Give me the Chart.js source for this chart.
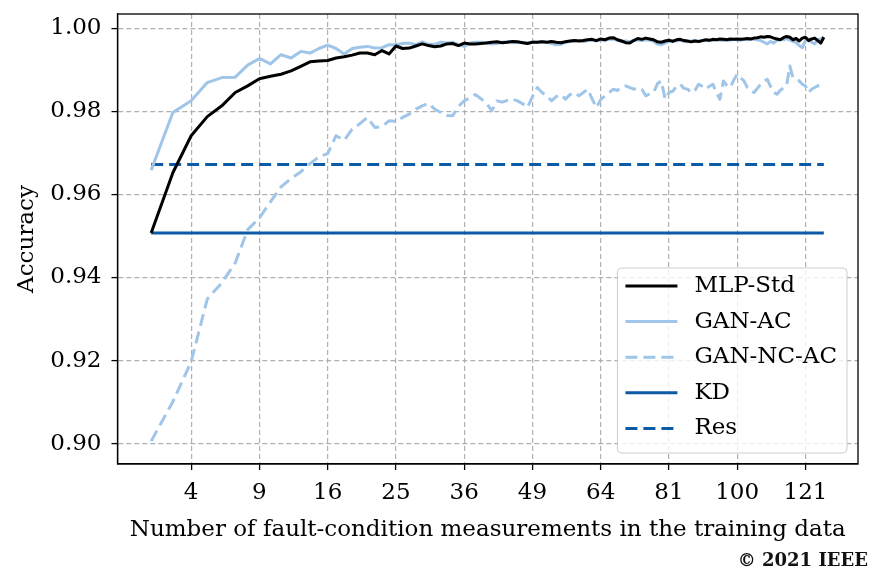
<!DOCTYPE html>
<html>
<head>
<meta charset="utf-8">
<script src="https://cdn.jsdelivr.net/npm/chart.js@4.4.1/dist/chart.umd.min.js"></script>
<style>
  html, body { margin: 0; padding: 0; background: #fff; }
  #wrap { position: relative; width: 872px; height: 574px; }
  #copyright { position: absolute; right: 4px; top: 549px; font: bold 18px 'DejaVu Serif', serif; color: #111; }
</style>
</head>
<body>
<div id="wrap">
  <canvas id="chart" width="872" height="574"></canvas>
  <div id="copyright">© 2021 IEEE</div>
</div>
<script>
// number of fault-condition measurements (x values, drawn on a sqrt axis)
const nValues = [
  2, 3, 4, 5, 6, 7, 8, 9, 10, 11,
  12, 13, 14, 15, 16, 17, 18, 19, 20, 21,
  22, 23, 24, 25, 26, 27, 28, 29, 30, 31,
  32, 33, 34, 35, 36, 37, 38, 39, 40, 41,
  42, 43, 44, 45, 46, 47, 48, 49, 50, 51,
  52, 53, 54, 55, 56, 57, 58, 59, 60, 61,
  62, 63, 64, 65, 66, 67, 68, 69, 70, 71,
  72, 73, 74, 75, 76, 77, 78, 79, 80, 81,
  82, 83, 84, 85, 86, 87, 88, 89, 90, 91,
  92, 93, 94, 95, 96, 97, 98, 99, 100, 101,
  102, 103, 104, 105, 106, 107, 108, 109, 110, 111,
  112, 113, 114, 115, 116, 117, 118, 119, 120, 121,
  122, 123, 124, 125, 126, 127
];

const mlpStd = [
  0.9507, 0.9652, 0.9741, 0.9787, 0.9813, 0.9845, 0.9861, 0.9878, 0.9884, 0.9889,
  0.9897, 0.9908, 0.9919, 0.9921, 0.9922, 0.9928, 0.9931, 0.9935, 0.9940, 0.9940,
  0.9936, 0.9946, 0.9938, 0.9957, 0.9951, 0.9952, 0.9957, 0.9962, 0.9958, 0.9955,
  0.9957, 0.9962, 0.9963, 0.9958, 0.9964, 0.9962, 0.9962, 0.9963, 0.9964, 0.9966,
  0.9967, 0.9965, 0.9966, 0.9968, 0.9967, 0.9965, 0.9963, 0.9966, 0.9966, 0.9967,
  0.9966, 0.9968, 0.9966, 0.9965, 0.9967, 0.9969, 0.9970, 0.9969, 0.9970, 0.9972,
  0.9973, 0.9970, 0.9974, 0.9972, 0.9976, 0.9977, 0.9972, 0.9969, 0.9965, 0.9964,
  0.9970, 0.9975, 0.9973, 0.9976, 0.9974, 0.9972, 0.9967, 0.9966, 0.9969, 0.9971,
  0.9968, 0.9972, 0.9973, 0.9970, 0.9969, 0.9967, 0.9969, 0.9968, 0.9970, 0.9972,
  0.9971, 0.9973, 0.9972, 0.9974, 0.9973, 0.9972, 0.9974, 0.9973, 0.9974, 0.9973,
  0.9974, 0.9975, 0.9974, 0.9976, 0.9977, 0.9979, 0.9978, 0.9980, 0.9979, 0.9976,
  0.9974, 0.9972, 0.9977, 0.9980, 0.9978, 0.9972, 0.9975, 0.9969, 0.9976, 0.9978,
  0.9970, 0.9974, 0.9976, 0.9970, 0.9964, 0.9978
];

const ganAC = [
  0.9658, 0.9797, 0.9825, 0.9869, 0.9881, 0.9882, 0.9911, 0.9927, 0.9914, 0.9936,
  0.9928, 0.9944, 0.9940, 0.9951, 0.9959, 0.9951, 0.9938, 0.9951, 0.9954, 0.9956,
  0.9952, 0.9953, 0.9960, 0.9960, 0.9963, 0.9964, 0.9960, 0.9967, 0.9961, 0.9961,
  0.9966, 0.9964, 0.9966, 0.9960, 0.9956, 0.9964, 0.9966, 0.9966, 0.9965, 0.9962,
  0.9963, 0.9966, 0.9968, 0.9966, 0.9965, 0.9966, 0.9964, 0.9967, 0.9966, 0.9968,
  0.9966, 0.9963, 0.9960, 0.9961, 0.9966, 0.9968, 0.9969, 0.9970, 0.9968, 0.9970,
  0.9971, 0.9969, 0.9972, 0.9971, 0.9973, 0.9974, 0.9970, 0.9968, 0.9969, 0.9967,
  0.9971, 0.9972, 0.9970, 0.9972, 0.9971, 0.9968, 0.9962, 0.9960, 0.9964, 0.9968,
  0.9970, 0.9969, 0.9971, 0.9968, 0.9967, 0.9969, 0.9970, 0.9968, 0.9969, 0.9970,
  0.9971, 0.9970, 0.9972, 0.9971, 0.9970, 0.9972, 0.9971, 0.9973, 0.9972, 0.9971,
  0.9973, 0.9972, 0.9974, 0.9973, 0.9972, 0.9970, 0.9966, 0.9962, 0.9968, 0.9964,
  0.9971, 0.9973, 0.9972, 0.9975, 0.9971, 0.9968, 0.9965, 0.9958, 0.9953, 0.9970,
  0.9974, 0.9966, 0.9962, 0.9972, 0.9974, 0.9979
];

const ganNCAC = [
  0.9006, 0.9101, 0.9197, 0.9348, 0.9387, 0.9435, 0.9515, 0.9543, 0.9582, 0.9618,
  0.9638, 0.9654, 0.9674, 0.9690, 0.9698, 0.9741, 0.9730, 0.9757, 0.9770, 0.9785,
  0.9761, 0.9763, 0.9777, 0.9776, 0.9785, 0.9793, 0.9805, 0.9813, 0.9819, 0.9805,
  0.9797, 0.9790, 0.9789, 0.9812, 0.9825, 0.9832, 0.9840, 0.9830, 0.9820, 0.9801,
  0.9825, 0.9822, 0.9826, 0.9829, 0.9825, 0.9818, 0.9809, 0.9835, 0.9857, 0.9845,
  0.9837, 0.9825, 0.9835, 0.9840, 0.9829, 0.9840, 0.9845, 0.9837, 0.9845, 0.9853,
  0.9830, 0.9809, 0.9828, 0.9837, 0.9845, 0.9853, 0.9850, 0.9858, 0.9861, 0.9857,
  0.9853, 0.9855, 0.9853, 0.9837, 0.9842, 0.9845, 0.9866, 0.9873, 0.9829, 0.9845,
  0.9848, 0.9860, 0.9865, 0.9855, 0.9853, 0.9845, 0.9850, 0.9865, 0.9860, 0.9853,
  0.9860, 0.9865, 0.9845, 0.9829, 0.9873, 0.9862, 0.9857, 0.9875, 0.9889, 0.9880,
  0.9873, 0.9857, 0.9850, 0.9845, 0.9855, 0.9865, 0.9872, 0.9877, 0.9860, 0.9845,
  0.9841, 0.9850, 0.9856, 0.9861, 0.9909, 0.9881, 0.9877, 0.9873, 0.9865, 0.9861,
  0.9845, 0.9853, 0.9857, 0.9861, 0.9865, 0.9869
];

// baselines that do not depend on the number of measurements
const kdAccuracy = 0.9507;
const resAccuracy = 0.9672;

const xTickLabels = [4, 9, 16, 25, 36, 49, 64, 81, 100, 121];
const yTicks = [0.90, 0.92, 0.94, 0.96, 0.98, 1.00];

const FONT = "'DejaVu Serif', serif";
const FONT_SIZE = 23;
const LIGHT = '#9fc5e8';
const DARK = '#0d5aa7';

function toPoints(values) {
    return nValues.map((n, i) => ({ x: Math.sqrt(n), y: values[i] }));
}

function flatLine(value) {
    const first = nValues[0];
    const last = nValues[nValues.length - 1];
    return [{ x: Math.sqrt(first), y: value }, { x: Math.sqrt(last), y: value }];
}

// full box round the plot, like the matplotlib frame
const framePlugin = {
    id: 'frame',
    afterDatasetsDraw(chart) {
        const { ctx, chartArea: a } = chart;
        ctx.save();
        ctx.strokeStyle = '#000';
        ctx.lineWidth = 1.3;
        ctx.setLineDash([]);
        ctx.strokeRect(a.left, a.top, a.right - a.left, a.bottom - a.top);
        ctx.restore();
    }
};

// legend box in the lower right corner of the plot
const boxLegend = {
    id: 'boxLegend',
    afterDraw(chart) {
        const { ctx, chartArea: a } = chart;
        const sets = chart.data.datasets;
        ctx.save();
        ctx.font = FONT_SIZE + 'px ' + FONT;
        const textW = Math.max(...sets.map(d => ctx.measureText(d.label).width));
        const handle = 52, gap = 17, padL = 8, padR = 10, rowH = 35.6, padT = 18;
        const w = padL + handle + gap + textW + padR;
        const h = rowH * sets.length + 7;
        const x = a.right - 11 - w;
        const y = a.bottom - 11 - h;

        ctx.beginPath();
        ctx.roundRect(x, y, w, h, 4);
        ctx.fillStyle = 'rgba(255,255,255,0.8)';
        ctx.fill();
        ctx.strokeStyle = '#cccccc';
        ctx.lineWidth = 1;
        ctx.stroke();

        sets.forEach((d, i) => {
            const cy = y + padT + i * rowH;
            ctx.beginPath();
            ctx.strokeStyle = d.borderColor;
            ctx.lineWidth = d.borderWidth;
            ctx.setLineDash(d.borderDash || []);
            ctx.moveTo(x + padL, cy);
            ctx.lineTo(x + padL + handle, cy);
            ctx.stroke();
            ctx.setLineDash([]);
            ctx.fillStyle = '#000';
            ctx.textBaseline = 'middle';
            ctx.fillText(d.label, x + padL + handle + gap, cy);
        });
        ctx.restore();
    }
};

const gridOpts = {
    color: '#b0b0b0',
    lineWidth: 1.2,
    tickColor: '#000',
    tickLength: 6,
    tickWidth: 1.3
};
const borderOpts = { display: true, color: '#000', width: 1.3, dash: [5, 3] };

const ctx = document.getElementById('chart').getContext('2d');
new Chart(ctx, {
    type: 'line',
    data: {
        datasets: [
            { label: 'MLP-Std', data: toPoints(mlpStd), borderColor: '#000000', borderWidth: 3 },
            { label: 'GAN-AC', data: toPoints(ganAC), borderColor: LIGHT, borderWidth: 3 },
            { label: 'GAN-NC-AC', data: toPoints(ganNCAC), borderColor: LIGHT, borderWidth: 3, borderDash: [12, 6] },
            { label: 'KD', data: flatLine(kdAccuracy), borderColor: DARK, borderWidth: 3 },
            { label: 'Res', data: flatLine(resAccuracy), borderColor: DARK, borderWidth: 3, borderDash: [12, 6] }
        ]
    },
    options: {
        responsive: false,
        animation: false,
        devicePixelRatio: 1,
        layout: { padding: { top: 14, right: 14, left: 0, bottom: 0 } },
        elements: {
            point: { radius: 0 },
            line: { tension: 0, borderJoinStyle: 'round', fill: false }
        },
        plugins: {
            legend: { display: false },
            tooltip: { enabled: false }
        },
        scales: {
            x: {
                type: 'linear',
                min: 0.921,
                max: 11.77,
                afterBuildTicks: s => { s.ticks = xTickLabels.map(n => ({ value: Math.sqrt(n) })); },
                afterFit: s => { s.height = 110; s.paddingLeft = 0; s.paddingRight = 0; },
                ticks: {
                    callback: (v, i) => xTickLabels[i],
                    color: '#000',
                    font: { family: FONT, size: FONT_SIZE },
                    padding: 9,
                    maxRotation: 0,
                    autoSkip: false
                },
                grid: gridOpts,
                border: borderOpts,
                title: {
                    display: true,
                    text: 'Number of fault-condition measurements in the training data',
                    color: '#000',
                    font: { family: FONT, size: FONT_SIZE },
                    padding: { top: 0, bottom: 30 }
                }
            },
            y: {
                min: 0.8951,
                max: 1.0034,
                afterBuildTicks: s => { s.ticks = yTicks.map(v => ({ value: v })); },
                afterFit: s => { s.width = 117.5; s.paddingTop = 0; s.paddingBottom = 0; },
                ticks: {
                    callback: v => v.toFixed(2),
                    color: '#000',
                    font: { family: FONT, size: FONT_SIZE },
                    padding: 10
                },
                grid: gridOpts,
                border: borderOpts,
                title: {
                    display: true,
                    text: 'Accuracy',
                    color: '#000',
                    font: { family: FONT, size: FONT_SIZE },
                    padding: { top: 13, bottom: 0 }
                }
            }
        }
    },
    plugins: [framePlugin, boxLegend]
});
</script>
</body>
</html>
